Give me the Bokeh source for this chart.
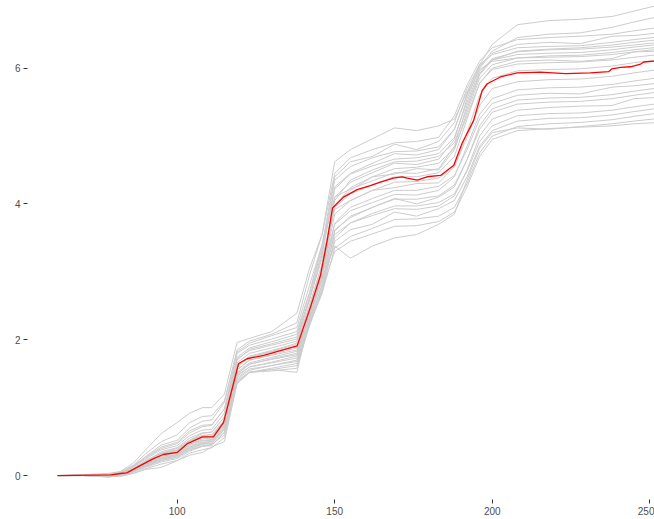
from bokeh.plotting import figure
from bokeh.models import Range1d, FixedTicker
from bokeh.embed import file_html
from bokeh.resources import INLINE

# common x grid of the grey series
x_grid = [62, 70, 78, 82, 86, 90, 95, 100, 104, 108, 111, 115, 119, 123, 130, 138,
          142, 146, 150, 155, 162, 169, 176, 183, 188, 192, 196, 200, 208, 218, 228,
          238, 245, 253]

s01 = [0, 0, 0.01, 0.03, 0.10, 0.22, 0.33, 0.40, 0.52, 0.62, 0.64, 0.86, 1.70, 1.86, 1.94, 2.04,
       2.62, 3.30, 4.25, 4.45, 4.60, 4.74, 4.72, 4.80, 5.10, 5.62, 6.05, 6.35, 6.64, 6.70, 6.72,
       6.76, 6.84, 6.93]
s02 = [0, 0, 0.02, 0.05, 0.14, 0.28, 0.45, 0.52, 0.70, 0.80, 0.82, 1.08, 1.85, 1.98, 2.08, 2.25,
       2.95, 3.55, 4.62, 4.80, 4.96, 5.12, 5.08, 5.15, 5.25, 5.65, 6.02, 6.25, 6.45, 6.50, 6.52,
       6.60, 6.68, 6.76]
s03 = [0, 0.01, 0.03, 0.06, 0.18, 0.38, 0.62, 0.78, 0.92, 1.00, 1.00, 1.20, 1.96, 2.02, 2.12, 2.39,
       3.05, 3.55, 4.45, 4.68, 4.80, 4.90, 4.92, 4.98, 5.30, 5.75, 6.10, 6.30, 6.42, 6.45, 6.47,
       6.50, 6.55, 6.60]
s04 = [0, 0, 0, 0.02, 0.08, 0.17, 0.28, 0.33, 0.46, 0.54, 0.55, 0.76, 1.62, 1.76, 1.84, 1.95,
       2.50, 3.12, 4.10, 4.32, 4.46, 4.60, 4.58, 4.66, 4.95, 5.55, 6.00, 6.22, 6.35, 6.38, 6.36,
       6.47, 6.48, 6.52]
s05 = [0, 0, 0.02, 0.05, 0.13, 0.26, 0.40, 0.47, 0.63, 0.72, 0.74, 0.98, 1.80, 1.92, 2.01, 2.12,
       2.70, 3.40, 4.40, 4.62, 4.70, 4.88, 4.80, 4.92, 5.20, 5.70, 6.05, 6.20, 6.30, 6.32, 6.33,
       6.38, 6.42, 6.46]
s06 = [0, 0, -0.01, 0.01, 0.06, 0.15, 0.26, 0.31, 0.42, 0.49, 0.50, 0.70, 1.55, 1.70, 1.78, 1.88,
       2.42, 3.05, 4.05, 4.35, 4.50, 4.62, 4.63, 4.70, 4.90, 5.40, 5.90, 6.12, 6.25, 6.28, 6.30,
       6.34, 6.38, 6.42]
s07 = [0, 0.01, 0.02, 0.05, 0.15, 0.32, 0.50, 0.60, 0.78, 0.87, 0.88, 1.10, 1.82, 1.95, 2.06, 2.18,
       2.80, 3.40, 4.10, 4.22, 4.34, 4.46, 4.45, 4.52, 4.85, 5.45, 5.92, 6.14, 6.24, 6.27, 6.28,
       6.31, 6.34, 6.38]
s08 = [0, 0, 0.01, 0.03, 0.09, 0.20, 0.32, 0.37, 0.51, 0.59, 0.60, 0.82, 1.66, 1.80, 1.88, 1.98,
       2.58, 3.25, 4.22, 4.44, 4.56, 4.66, 4.68, 4.74, 4.98, 5.50, 5.95, 6.12, 6.20, 6.22, 6.23,
       6.27, 6.31, 6.35]
s09 = [0, 0, 0, 0.02, 0.07, 0.15, 0.24, 0.29, 0.40, 0.46, 0.47, 0.68, 1.52, 1.66, 1.74, 1.83,
       2.38, 3.00, 3.98, 4.20, 4.40, 4.44, 4.52, 4.50, 4.80, 5.35, 5.85, 6.05, 6.15, 6.18, 6.19,
       6.23, 6.27, 6.31]
s10 = [0, 0, 0.02, 0.04, 0.12, 0.24, 0.38, 0.44, 0.59, 0.67, 0.68, 0.92, 1.74, 1.88, 1.97, 2.08,
       2.68, 3.35, 4.35, 4.55, 4.68, 4.77, 4.78, 4.84, 5.10, 5.60, 5.98, 6.10, 6.15, 6.16, 6.17,
       6.20, 6.24, 6.28]
s11 = [0, 0, 0.01, 0.03, 0.09, 0.19, 0.31, 0.36, 0.50, 0.57, 0.58, 0.80, 1.60, 1.74, 1.83, 1.93,
       2.50, 3.10, 3.95, 4.15, 4.28, 4.40, 4.40, 4.46, 4.70, 5.25, 5.78, 6.00, 6.10, 6.12, 6.10,
       6.14, 6.24, 6.25]
s12 = [0, 0, -0.01, 0.01, 0.06, 0.14, 0.22, 0.27, 0.38, 0.43, 0.44, 0.64, 1.46, 1.60, 1.67, 1.76,
       2.30, 2.95, 3.98, 4.24, 4.40, 4.52, 4.54, 4.60, 4.82, 5.30, 5.78, 5.98, 6.06, 6.08, 6.09,
       6.12, 6.16, 6.20]
s13 = [0, 0.01, 0.02, 0.04, 0.13, 0.27, 0.42, 0.49, 0.66, 0.74, 0.75, 0.98, 1.72, 1.84, 1.92, 2.01,
       2.60, 3.20, 3.92, 4.05, 4.20, 4.24, 4.30, 4.31, 4.55, 5.05, 5.60, 5.85, 5.96, 5.98, 5.99,
       6.03, 6.08, 6.12]
s14 = [0, 0, 0, 0.02, 0.07, 0.16, 0.26, 0.31, 0.44, 0.51, 0.52, 0.72, 1.50, 1.64, 1.72, 1.80,
       2.35, 2.95, 3.85, 4.05, 4.20, 4.32, 4.33, 4.38, 4.55, 4.98, 5.45, 5.70, 5.80, 5.83, 5.84,
       5.88, 5.93, 5.98]
s15 = [0, 0, 0.01, 0.03, 0.10, 0.21, 0.35, 0.41, 0.55, 0.63, 0.64, 0.86, 1.62, 1.74, 1.82, 1.90,
       2.45, 3.00, 3.70, 3.90, 4.02, 4.14, 4.13, 4.20, 4.40, 4.85, 5.32, 5.55, 5.68, 5.71, 5.72,
       5.76, 5.81, 5.86]
s16 = [0, 0, -0.02, 0, 0.05, 0.14, 0.24, 0.29, 0.40, 0.47, 0.48, 0.68, 1.42, 1.55, 1.62, 1.70,
       2.25, 2.82, 3.72, 3.95, 4.08, 4.20, 4.20, 4.26, 4.42, 4.80, 5.25, 5.48, 5.60, 5.63, 5.62,
       5.72, 5.74, 5.78]
s17 = [0, 0, 0.01, 0.03, 0.09, 0.19, 0.30, 0.35, 0.49, 0.56, 0.57, 0.78, 1.56, 1.70, 1.77, 1.85,
       2.40, 2.95, 3.62, 3.80, 3.95, 4.08, 4.00, 4.10, 4.25, 4.65, 5.15, 5.40, 5.53, 5.56, 5.57,
       5.61, 5.66, 5.71]
s18 = [0, 0, -0.01, 0.01, 0.06, 0.13, 0.22, 0.27, 0.38, 0.44, 0.45, 0.64, 1.38, 1.52, 1.58, 1.65,
       2.20, 2.75, 3.60, 3.82, 3.95, 4.07, 4.07, 4.12, 4.28, 4.65, 5.10, 5.35, 5.47, 5.50, 5.51,
       5.55, 5.60, 5.65]
s19 = [0, 0, 0, 0.02, 0.08, 0.17, 0.28, 0.33, 0.46, 0.52, 0.53, 0.74, 1.50, 1.64, 1.71, 1.78,
       2.32, 2.88, 3.55, 3.72, 3.83, 3.93, 3.92, 3.97, 4.12, 4.50, 5.00, 5.25, 5.38, 5.42, 5.44,
       5.45, 5.55, 5.57]
s20 = [0, 0, -0.02, -0.01, 0.03, 0.10, 0.17, 0.22, 0.33, 0.38, 0.41, 0.56, 1.35, 1.52, 1.56, 1.62,
       2.24, 2.70, 3.50, 3.72, 3.86, 3.97, 3.97, 4.02, 4.15, 4.48, 4.92, 5.15, 5.30, 5.33, 5.34,
       5.38, 5.43, 5.48]
s21 = [0, 0, 0.01, 0.03, 0.10, 0.21, 0.33, 0.38, 0.52, 0.59, 0.60, 0.80, 1.48, 1.60, 1.66, 1.73,
       2.28, 2.80, 3.45, 3.62, 3.70, 3.88, 3.82, 3.93, 4.05, 4.40, 4.85, 5.08, 5.22, 5.26, 5.27,
       5.31, 5.36, 5.41]
s22 = [0, 0, -0.01, 0.01, 0.05, 0.12, 0.20, 0.25, 0.36, 0.43, 0.46, 0.60, 1.40, 1.52, 1.54, 1.58,
       2.22, 2.68, 3.35, 3.52, 3.64, 3.77, 3.78, 3.82, 3.95, 4.30, 4.75, 5.00, 5.14, 5.18, 5.20,
       5.24, 5.29, 5.34]
s23 = [0, 0, -0.02, -0.01, 0.03, 0.09, 0.12, 0.22, 0.30, 0.34, 0.42, 0.50, 1.36, 1.52, 1.56, 1.52,
       2.30, 2.90, 3.38, 3.20, 3.38, 3.50, 3.55, 3.70, 3.85, 4.35, 4.82, 5.05, 5.12, 5.10, 5.14,
       5.18, 5.22, 5.26]
s24 = [0, 0, 0, 0.02, 0.07, 0.15, 0.25, 0.30, 0.42, 0.48, 0.50, 0.70, 1.44, 1.57, 1.62, 1.68,
       2.22, 2.75, 3.30, 3.45, 3.56, 3.67, 3.68, 3.74, 3.88, 4.25, 4.70, 4.95, 5.08, 5.11, 5.13,
       5.15, 5.18, 5.20]

grey_series = [s01, s02, s03, s04, s05, s06, s07, s08, s09, s10, s11, s12,
               s13, s14, s15, s16, s17, s18, s19, s20, s21, s22, s23, s24]

# highlighted (red) series
red_x = [62, 79, 82, 84, 88.4, 92.5, 95.6, 100, 103.3, 108, 111.5, 114.7, 119.5, 122.2,
         127.5, 132.8, 138.1, 142.3, 145.5, 147.6, 149.3, 152.8, 157.1, 161.3, 164.5,
         168.6, 171.4, 173, 176.2, 179.3, 183.6, 187.8, 190.4, 194.1, 196.8, 198.4, 202.6,
         207.9, 215.3, 223.2, 231.1, 237, 238, 240.7, 243.9, 247.1, 248.1, 253]
red_y = [0, 0.01, 0.03, 0.04, 0.15, 0.25, 0.31, 0.34, 0.47, 0.57, 0.57, 0.78, 1.65, 1.72,
         1.77, 1.84, 1.91, 2.48, 2.95, 3.46, 3.94, 4.10, 4.21, 4.27, 4.32,
         4.38, 4.40, 4.38, 4.35, 4.40, 4.42, 4.57, 4.89, 5.23, 5.67, 5.77, 5.87,
         5.93, 5.94, 5.92, 5.93, 5.95, 5.99, 6.01, 6.02, 6.06, 6.09, 6.11]

x_ticks = [100, 150, 200, 250]
y_ticks = [0, 2, 4, 6]

p = figure(width=654, height=519, output_backend="svg", toolbar_location=None,
           x_range=Range1d(52.5, 251.5), y_range=Range1d(-0.353, 6.996),
           min_border_left=27, min_border_right=0, min_border_top=0, min_border_bottom=20)

p.background_fill_color = "white"
p.border_fill_color = "white"
p.outline_line_color = None
p.xgrid.visible = False
p.ygrid.visible = False

for ys in grey_series:
    p.line(x_grid, ys, line_color="#cccccc", line_width=1, line_join="round")

p.line(red_x, red_y, line_color="#ff0000", line_width=1.3, line_join="round")

for ax, ticks in ((p.xaxis[0], x_ticks), (p.yaxis[0], y_ticks)):
    ax.ticker = FixedTicker(ticks=ticks)
    ax.axis_line_color = None
    ax.major_tick_line_color = "#333333"
    ax.major_tick_in = 0
    ax.major_tick_out = 4
    ax.minor_tick_line_color = None
    ax.major_label_text_font = "Liberation Sans"
    ax.major_label_text_font_size = "10px"
    ax.major_label_text_color = "#4d4d4d"
    ax.major_label_standoff = 3

open("out.html", "w").write(file_html(p, INLINE))
